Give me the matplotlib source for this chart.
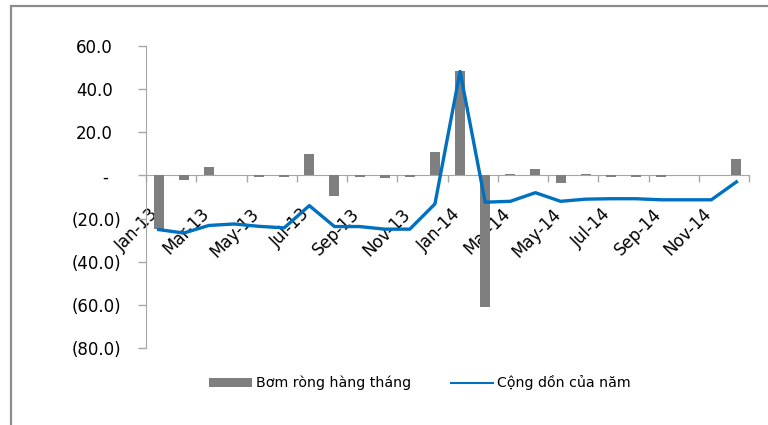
import numpy as np
import matplotlib
matplotlib.use('Agg')
import matplotlib.pyplot as plt
import matplotlib.transforms as mtransforms
from matplotlib.patches import Rectangle

plt.rcParams['font.family'] = ['DejaVu Sans']

# Data (ty VND)
months = ['Jan-13', 'Feb-13', 'Mar-13', 'Apr-13', 'May-13', 'Jun-13',
          'Jul-13', 'Aug-13', 'Sep-13', 'Oct-13', 'Nov-13', 'Dec-13',
          'Jan-14', 'Feb-14', 'Mar-14', 'Apr-14', 'May-14', 'Jun-14',
          'Jul-14', 'Aug-14', 'Sep-14', 'Oct-14', 'Nov-14', 'Dec-14']
monthly = [-25.0, -2.0, 3.8, 0.0, -0.5, -0.5, 9.8, -9.5, -0.5, -1.3, -0.5, 10.8,
           48.3, -61.0, 0.5, 3.2, -3.6, 0.6, -0.5, -0.5, -0.5, 0.0, 0.0, 7.7]
cumulative = [-25.1, -26.7, -23.2, -22.5, -23.6, -24.3, -14.0, -23.7, -23.7, -24.9, -24.9, -13.2,
              48.2, -12.4, -12.0, -8.0, -12.0, -11.0, -10.8, -10.8, -11.3, -11.3, -11.3, -3.0]
yticks = [60, 40, 20, 0, -20, -40, -60, -80]
ytick_labels = ['60.0', '40.0', '20.0', '-', '(20.0)', '(40.0)', '(60.0)', '(80.0)']

bar_color = '#7f7f7f'
line_color = '#0070c0'
axis_color = '#a6a6a6'

fig = plt.figure(figsize=(7.68, 4.25), dpi=100)
W, H = 768, 425
ax = fig.add_axes([146 / W, 1 - 348 / H, (749 - 146) / W, (348 - 46) / H])

x = np.arange(len(months))
bars = ax.bar(x, monthly, width=0.4, color=bar_color, zorder=2)
line, = ax.plot(x, cumulative, color=line_color, lw=2.4, zorder=3, solid_joinstyle='round')

ax.set_xlim(-0.5, len(months) - 0.5)
ax.set_ylim(-80, 60)

# spines
for s in ['top', 'right']:
    ax.spines[s].set_visible(False)
ax.spines['bottom'].set_position(('data', 0))
ax.spines['bottom'].set_color(axis_color)
ax.spines['left'].set_color(axis_color)
ax.spines['bottom'].set_zorder(1)

# y axis
ax.set_yticks(yticks)
ax.set_yticklabels(ytick_labels)
ax.tick_params(axis='y', length=6, width=1, color=axis_color, pad=12, labelsize=12)
for lab, v in zip(ax.get_yticklabels(), yticks):
    if v > 0:
        dx = -8
    elif v == 0:
        dx = -13
    else:
        dx = 0
    lab.set_transform(lab.get_transform() + mtransforms.ScaledTranslation(dx / 100, 0, fig.dpi_scale_trans))

# x axis: ticks between every other category, labels on every other month
ax.set_xticks(np.arange(-0.5, len(months), 2))
ax.set_xticklabels([])
ax.tick_params(axis='x', which='major', direction='out', length=5, width=1, color=axis_color)
ax.set_xticks(x[::2], minor=True)
ax.set_xticklabels(months[::2], minor=True, rotation=45, ha='right', rotation_mode='anchor')
ax.tick_params(axis='x', which='minor', length=0, pad=19, labelsize=12)
for lab in ax.get_xticklabels(minor=True):
    lab.set_transform(lab.get_transform() + mtransforms.ScaledTranslation(-9 / 100, -3 / 100, fig.dpi_scale_trans))

# legend
leg = fig.legend([bars, line], ['Bơm ròng hàng tháng', 'Cộng dồn của năm'],
                 loc='center', bbox_to_anchor=(420 / W, 1 - 383 / H), ncol=2, frameon=False,
                 fontsize=10.2, handlelength=3.0, handleheight=0.6, handletextpad=0.3,
                 columnspacing=2.8)
leg.get_lines()[0].set_linewidth(1.5)

# outer frame (cropped at right/bottom)
fig.patches.append(Rectangle((11 / W, -0.1), 1.2, 1 - 6 / H + 0.1, transform=fig.transFigure,
                             fill=False, edgecolor='#8c8c8c', lw=1.6))

fig.savefig('out.png', dpi=100)
